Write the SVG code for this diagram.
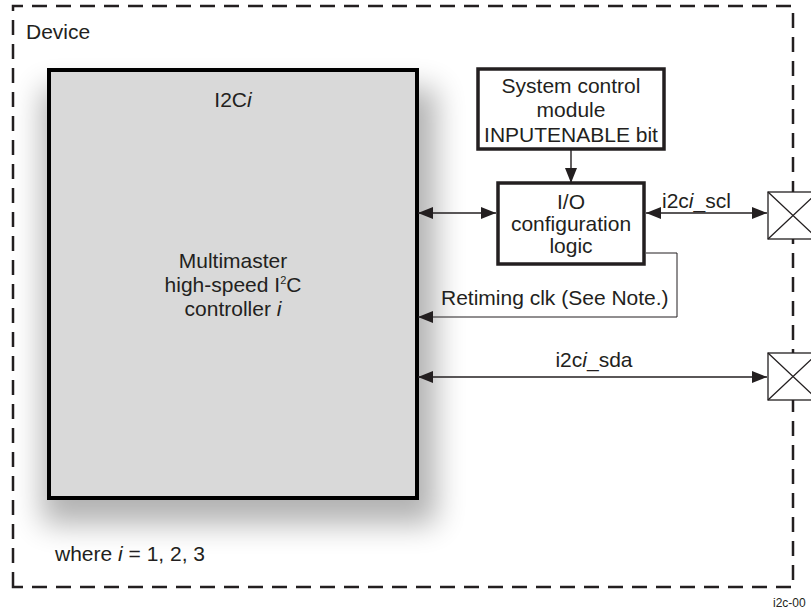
<svg xmlns="http://www.w3.org/2000/svg" width="811" height="610" viewBox="0 0 811 610">
<style>
text{font-family:"Liberation Sans",Arial,sans-serif;font-size:21px;fill:#231f20}
.c{text-anchor:middle}
.box{fill:#fff;stroke:#231f20;stroke-width:3.5}
.ln{fill:none;stroke:#231f20;stroke-width:1.4}
.thin{fill:none;stroke:#231f20;stroke-width:1}
.pad{fill:#fff;stroke:#231f20;stroke-width:1.3}
</style>
<defs>
<marker id="ah" viewBox="0 0 15 12" refX="15" refY="6" markerWidth="15" markerHeight="12" markerUnits="userSpaceOnUse" orient="auto-start-reverse"><path d="M0,0L15,6L0,12z" fill="#231f20"/></marker>
<filter id="sh" x="-25%" y="-25%" width="160%" height="160%"><feGaussianBlur stdDeviation="15"/></filter>
</defs>
<rect width="811" height="610" fill="#fff"/>
<g id="device">
<path d="M13,587V6H793V587Z" fill="none" stroke="#231f20" stroke-width="2.5" stroke-dasharray="15,9"/>
<text x="26" y="39">Device</text>
<text x="55" y="561">where <tspan font-style="italic">i</tspan> = 1, 2, 3</text>
</g>
<g id="i2c">
<rect x="42" y="88" width="394" height="436" fill="#000" opacity="0.3" filter="url(#sh)"/>
<rect x="49" y="70" width="368" height="428" fill="#d9d9d9" stroke="#000" stroke-width="4"/>
<text class="c" x="233" y="107">I2C<tspan font-style="italic">i</tspan></text>
<text class="c" x="233" y="268">Multimaster</text>
<text class="c" x="233" y="292">high-speed I<tspan font-size="11" dy="-8">2</tspan><tspan dy="8">C</tspan></text>
<text class="c" x="233" y="316">controller <tspan font-style="italic">i</tspan></text>
</g>
<g id="scm">
<rect class="box" x="478" y="69" width="186" height="80"/>
<text class="c" x="571" y="93">System control</text>
<text class="c" x="571" y="117">module</text>
<text class="c" x="571" y="142">INPUTENABLE bit</text>
</g>
<g id="iocfg">
<rect class="box" x="498" y="183" width="146" height="81"/>
<text class="c" x="571" y="209">I/O</text>
<text class="c" x="571" y="231">configuration</text>
<text class="c" x="571" y="253">logic</text>
</g>
<g id="pad-scl">
<rect class="pad" x="768" y="192" width="50" height="47"/>
<path class="pad" d="M768,192L818,239M768,239L818,192"/>
</g>
<g id="pad-sda">
<rect class="pad" x="768" y="353" width="50" height="47"/>
<path class="pad" d="M768,353L818,400M768,400L818,353"/>
</g>
<g id="connectors">
<path class="ln" d="M571,149V183" marker-end="url(#ah)"/>
<path class="ln" d="M418,213H496" marker-start="url(#ah)" marker-end="url(#ah)"/>
<path class="ln" d="M646,213H767" marker-start="url(#ah)" marker-end="url(#ah)"/>
<path class="thin" d="M646,253H677V317H418" marker-end="url(#ah)"/>
<path class="ln" d="M418,377H767" marker-start="url(#ah)" marker-end="url(#ah)"/>
<text x="662" y="208">i2c<tspan font-style="italic">i</tspan>_scl</text>
<text x="441" y="305">Retiming clk (See Note.)</text>
<text class="c" x="594" y="367">i2c<tspan font-style="italic">i</tspan>_sda</text>
</g>
<text x="773" y="607" style="font-size:12px">i2c-00</text>
</svg>
